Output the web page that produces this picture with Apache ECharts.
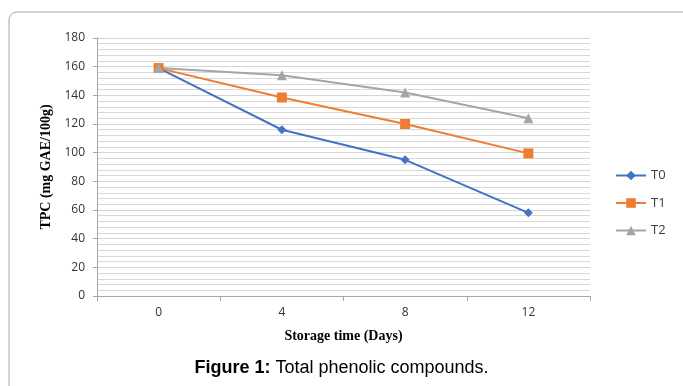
<!DOCTYPE html>
<html>
<head>
<meta charset="utf-8">
<script src="https://cdn.jsdelivr.net/npm/echarts@6/dist/echarts.min.js"></script>
<style>
  html, body { margin: 0; padding: 0; background: #fff; }
  #chart { width: 683px; height: 386px; }
</style>
</head>
<body>
<div id="chart"></div>
<script>
// storage days and TPC readings for each treatment
const days = ['0', '4', '8', '12'];
const t0 = [159, 116, 95, 58];
const t1 = [159, 138.5, 120, 99.5];
const t2 = [159, 154, 142, 124];

const chart = echarts.init(document.getElementById('chart'));

function lineSeries(name, data, color, symbol, size) {
  return {
    name: name,
    type: 'line',
    data: data,
    symbol: symbol,
    symbolSize: size,
    itemStyle: { color: color },
    lineStyle: { color: color, width: 2 }
  };
}

chart.setOption({
  animation: false,
  grid: { left: 97, top: 38, right: 93, bottom: 90 },
  legend: {
    orient: 'vertical',
    left: 610,
    top: 164,
    itemWidth: 30,
    itemHeight: 12,
    itemGap: 14.5,
    textStyle: { fontFamily: 'Open Sans', fontSize: 13, color: '#404040' },
    data: ['T0', 'T1', 'T2']
  },
  xAxis: {
    type: 'category',
    data: days,
    name: 'Storage time (Days)',
    nameLocation: 'middle',
    nameGap: 33,
    nameTextStyle: { fontFamily: 'Liberation Serif', fontWeight: 'bold', fontSize: 14, color: '#000' },
    axisLine: { lineStyle: { color: '#a6a6a6' } },
    axisTick: { show: true, length: 5, lineStyle: { color: '#a6a6a6' } },
    axisLabel: { fontFamily: 'Open Sans', fontSize: 12, color: '#333', margin: 11 }
  },
  yAxis: {
    type: 'value',
    min: 0,
    max: 180,
    interval: 20,
    name: 'TPC (mg GAE/100g)',
    nameLocation: 'middle',
    nameGap: 42,
    nameTextStyle: { fontFamily: 'Liberation Serif', fontWeight: 'bold', fontSize: 14, color: '#000' },
    axisLine: { show: true, lineStyle: { color: '#a6a6a6' } },
    axisTick: { show: true, length: 4, lineStyle: { color: '#a6a6a6' } },
    axisLabel: { fontFamily: 'Open Sans', fontSize: 12, color: '#333', margin: 12 },
    splitLine: { lineStyle: { color: '#d4d4d4', width: 1 } },
    minorTick: { show: false, splitNumber: 5 },
    minorSplitLine: { show: true, lineStyle: { color: '#d9d9d9', width: 1 } }
  },
  series: [
    lineSeries('T0', t0, '#4472C4', 'diamond', 9),
    lineSeries('T1', t1, '#ED7D31', 'rect', 10),
    lineSeries('T2', t2, '#A5A5A5', 'triangle', 10)
  ],
  graphic: [
    {
      type: 'rect',
      shape: { x: 9, y: 12, width: 720, height: 420, r: 8 },
      style: { fill: 'none', stroke: '#a6a6a6', lineWidth: 1 },
      silent: true
    },
    {
      type: 'text',
      left: 'center',
      top: 359,
      style: {
        text: '{b|Figure 1:} Total phenolic compounds.',
        fontFamily: 'Liberation Sans',
        fontSize: 18,
        fill: '#000',
        rich: {
          b: { fontFamily: 'Liberation Sans', fontSize: 18, fontWeight: 'bold', fill: '#000' }
        }
      }
    }
  ]
});
</script>
</body>
</html>
